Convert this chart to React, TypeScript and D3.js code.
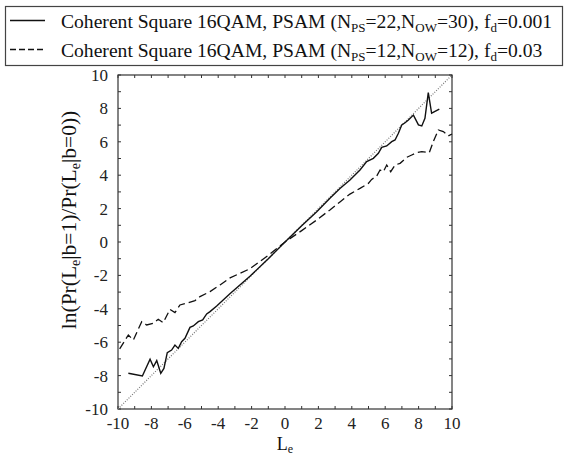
import React from "react";
import * as d3 from "d3";

const solidX = [-9.38,-8.54,-8.08,-7.88,-7.68,-7.44,-7.25,-7.05,-6.79,-6.59,-6.39,-6.19,-5.99,-5.69,-5.49,-5.19,-4.93,-4.69,-4.49,-4.09,-3.3,-2.1,-1.0,0,1.0,1.9,2.69,3.29,3.89,4.49,4.89,5.29,5.59,5.79,6.09,6.39,6.59,6.79,6.99,7.19,7.39,7.69,7.99,8.19,8.38,8.58,8.78,9.24];
const solidY = [-7.86,-8.02,-7.02,-7.47,-7.10,-7.86,-7.57,-6.63,-6.47,-6.17,-6.37,-5.97,-5.77,-5.11,-5.03,-4.77,-4.67,-4.31,-4.17,-3.83,-3.1,-2.05,-1.0,0,0.97,1.81,2.62,3.2,3.71,4.31,4.81,5.01,5.31,5.67,5.75,6.01,6.11,6.51,7.01,7.14,7.31,7.60,7.01,6.95,7.41,8.94,7.71,7.95];

const dashX = [-9.9,-9.38,-9.08,-8.58,-8.28,-7.88,-7.59,-7.29,-6.89,-6.59,-6.29,-5.89,-5.39,-5.09,-4.49,-3.89,-3.29,-2.1,-1.0,0,1.0,1.9,2.69,3.29,3.89,4.49,4.99,5.19,5.49,5.69,5.89,6.09,6.33,6.59,6.89,7.29,7.59,7.89,8.19,8.64,8.88,9.18,9.48,9.78,10.0];
const dashY = [-6.4,-5.57,-5.87,-4.77,-4.97,-4.87,-4.63,-4.83,-4.03,-4.23,-3.77,-3.67,-3.51,-3.27,-2.97,-2.57,-2.15,-1.6,-0.8,0,0.68,1.32,1.92,2.4,2.87,3.21,3.51,3.75,3.95,4.31,4.21,4.61,4.21,4.61,4.71,5.07,5.21,5.35,5.41,5.35,6.01,6.71,6.61,6.35,6.47];

const majorTicks = [-10,-8,-6,-4,-2,0,2,4,6,8,10];
const minorTicks = d3.range(-10, 11, 1);

export default function App() {
  const W = 567, H = 457;
  const x = d3.scaleLinear().domain([-10, 10]).range([118, 452]);
  const y = d3.scaleLinear().domain([-10, 10]).range([409, 75]);
  const line = d3.line<number>().x((d) => x(d)).y((d) => y(d));
  const solidPath = d3.line<number>().x((_, i) => x(solidX[i])).y((_, i) => y(solidY[i]))(solidX) || "";
  const dashPath = d3.line<number>().x((_, i) => x(dashX[i])).y((_, i) => y(dashY[i]))(dashX) || "";
  const diag = line([-10, 10]) || "";
  const font = "'Liberation Serif', 'Times New Roman', serif";
  const tl = 3;
  return (
    <svg width={W} height={H} style={{ position: "absolute", left: 0, top: 0 }} fontFamily={font}>
      <rect width={W} height={H} fill="#fff" />
      {/* legend */}
      <rect x={5.5} y={6.5} width={557} height={59} fill="#fff" stroke="#444" strokeWidth={1.2} />
      <line x1={10} x2={45} y1={20.5} y2={20.5} stroke="#111" strokeWidth={1.3} />
      <line x1={10} x2={45} y1={49.5} y2={49.5} stroke="#111" strokeWidth={1.3} strokeDasharray="6,3" />
      <text x={61} y={28} fontSize={19.6} fill="#111">
        Coherent Square 16QAM, PSAM (N<tspan fontSize={13} dy={4}>PS</tspan><tspan dy={-4}>=22,N</tspan><tspan fontSize={13} dy={4}>OW</tspan><tspan dy={-4}>=30), f</tspan><tspan fontSize={13} dy={4}>d</tspan><tspan dy={-4}>=0.001</tspan>
      </text>
      <text x={61} y={57} fontSize={19.6} fill="#111">
        Coherent Square 16QAM, PSAM (N<tspan fontSize={13} dy={4}>PS</tspan><tspan dy={-4}>=12,N</tspan><tspan fontSize={13} dy={4}>OW</tspan><tspan dy={-4}>=12), f</tspan><tspan fontSize={13} dy={4}>d</tspan><tspan dy={-4}>=0.03</tspan>
      </text>
      {/* frame */}
      <rect x={x(-10)} y={y(10)} width={x(10) - x(-10)} height={y(-10) - y(10)} fill="none" stroke="#333" strokeWidth={1.2} />
      {minorTicks.map((t) => (
        <g key={"t" + t} stroke="#333" strokeWidth={1}>
          <line x1={x(t)} x2={x(t)} y1={y(-10)} y2={y(-10) - tl} />
          <line x1={x(t)} x2={x(t)} y1={y(10)} y2={y(10) + tl} />
          <line x1={x(-10)} x2={x(-10) + tl} y1={y(t)} y2={y(t)} />
          <line x1={x(10)} x2={x(10) - tl} y1={y(t)} y2={y(t)} />
        </g>
      ))}
      {majorTicks.map((t) => (
        <text key={"xl" + t} x={x(t)} y={429} fontSize={17} textAnchor="middle" fill="#222">{t}</text>
      ))}
      {majorTicks.map((t) => (
        <text key={"yl" + t} x={108} y={y(t) + 6} fontSize={17} textAnchor="end" fill="#222">{t}</text>
      ))}
      {/* diagonal */}
      <path d={diag} stroke="#777" strokeWidth={1.2} strokeDasharray="1,1.5" fill="none" />
      <path d={dashPath} stroke="#111" strokeWidth={1.3} strokeDasharray="8,4" fill="none" />
      <path d={solidPath} stroke="#111" strokeWidth={1.4} fill="none" />
      {/* axis labels */}
      <text x={285} y={450} fontSize={18} textAnchor="middle" fill="#111">
        L<tspan fontSize={12} dy={3}>e</tspan>
      </text>
      <text transform="translate(76,220) rotate(-90)" fontSize={21.5} textAnchor="middle" fill="#111">
        ln(Pr(L<tspan fontSize={14} dy={4}>e</tspan><tspan dy={-4}>|b=1)/Pr(L</tspan><tspan fontSize={14} dy={4}>e</tspan><tspan dy={-4}>|b=0))</tspan>
      </text>
    </svg>
  );
}
